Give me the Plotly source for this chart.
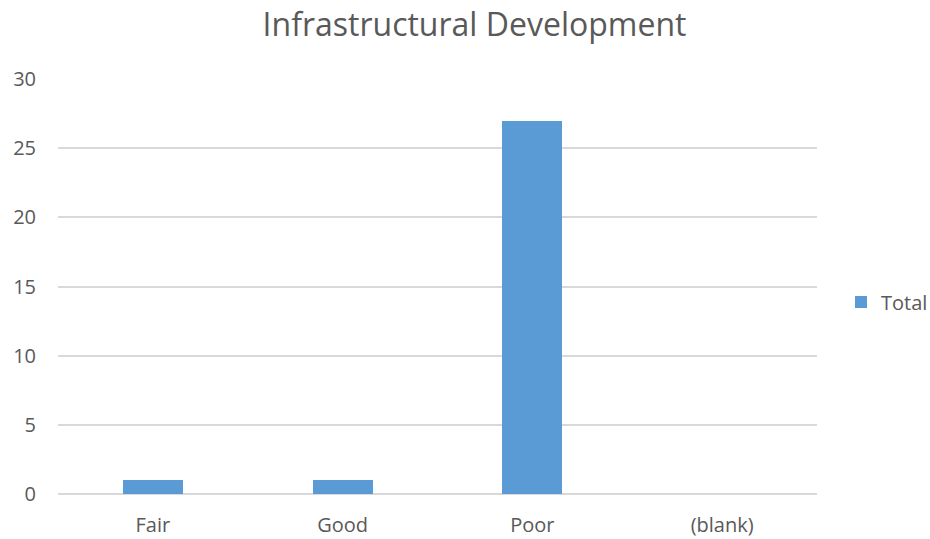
import plotly.graph_objects as go

categories = ["Fair", "Good", "Poor", "(blank)"]
totals = [1, 1, 27, 0]
y_ticks = [0, 5, 10, 15, 20, 25, 30]

text_color = "#595959"
grid_color = "#d9d9d9"
bar_color = "#5b9bd5"

fig = go.Figure(
    go.Bar(
        x=categories,
        y=totals,
        name="Total",
        marker=dict(color=bar_color, line=dict(width=0)),
        width=0.316,
        showlegend=True,
    )
)

fig.update_layout(
    width=930,
    height=539,
    margin=dict(l=58, r=113, t=79, b=45, autoexpand=False),
    paper_bgcolor="white",
    plot_bgcolor="white",
    font=dict(family="Open Sans", color=text_color, size=20),
    title=dict(
        text="Infrastructural Development",
        x=474.5 / 930,
        xanchor="center",
        y=1 - 25 / 539,
        yanchor="middle",
        font=dict(size=32, color=text_color),
    ),
    legend=dict(
        x=(841 - 58) / 759,
        xanchor="left",
        y=1 - (302 - 79) / 415,
        yanchor="middle",
        font=dict(size=20, color=text_color),
        bgcolor="rgba(0,0,0,0)",
    ),
    bargap=0,
)

fig.update_xaxes(
    showgrid=False,
    showline=False,
    ticks="",
    automargin=False,
    tickfont=dict(size=20, color=text_color),
    ticklabelstandoff=17,
)
fig.update_yaxes(
    range=[0, 30],
    tickvals=y_ticks,
    showgrid=True,
    gridcolor=grid_color,
    gridwidth=1.5,
    zeroline=True,
    zerolinecolor=grid_color,
    zerolinewidth=1.5,
    showline=False,
    ticks="",
    automargin=False,
    tickfont=dict(size=20, color=text_color),
    ticklabelstandoff=21,
)

fig.write_html("out.html")
